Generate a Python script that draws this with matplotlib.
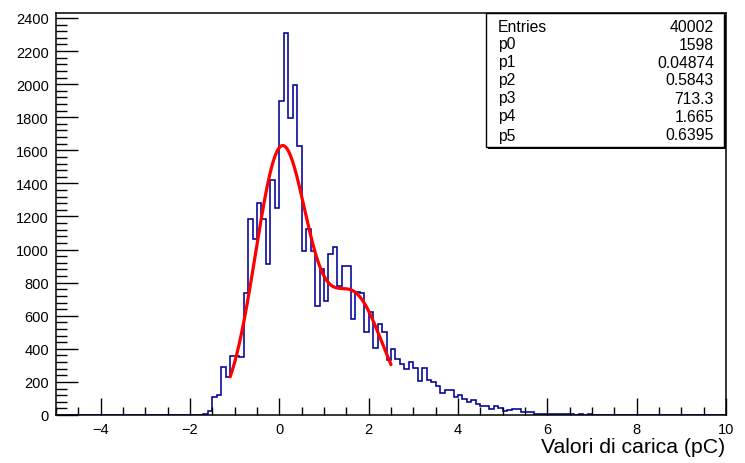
import numpy as np
import matplotlib
matplotlib.use("Agg")
import matplotlib.pyplot as plt
from matplotlib.patches import Rectangle
from matplotlib.ticker import MultipleLocator

plt.rcParams['font.family'] = ['Liberation Sans', 'DejaVu Sans']

# ---------------- data ----------------
x_min, x_max, n_bins = -5.0, 10.0, 150
first_bin_left = -1.7
counts = [
    5, 26, 110, 120, 288, 227, 358, 355, 350,            # -1.7 .. -0.9
    740, 1186, 1061, 1283, 1186, 911, 1423, 1250,         # -0.8 .. -0.1
    1896, 2308, 1796, 1996, 1628,                         # 0.0 .. 0.4
    991, 1122, 991, 659, 881, 690, 971, 1013, 778, 900, 900,  # 0.5 .. 1.5
    579, 742, 735, 502, 620, 408, 550, 500,               # 1.6 .. 2.3
    330, 400, 340, 310, 280, 322, 287, 207,               # 2.4 .. 3.1
    282, 213, 197, 177, 133, 153, 150, 107, 121, 97,      # 3.2 .. 4.1
    76, 92, 66, 52, 52, 36, 52, 40, 26, 28,               # 4.2 .. 5.1
    36, 34, 16, 18, 16, 8, 6, 6, 6, 5,                    # 5.2 .. 6.1
    5, 5, 5, 4, 0, 4, 0, 4, 3                             # 6.2 .. 7.0
]

entries = 40002
fit_params = [1598, 0.04874, 0.5843, 713.3, 1.665, 0.6395]
fit_params_text = ["1598", "0.04874", "0.5843", "713.3", "1.665", "0.6395"]
fit_range = (-1.1, 2.5)

x_title = "Valori di carica (pC)"
y_ticks = list(range(0, 2401, 200))
x_ticks = [-4, -2, 0, 2, 4, 6, 8, 10]

# ---------------- build histogram ----------------
edges = np.linspace(x_min, x_max, n_bins + 1)
hist = np.zeros(n_bins)
start = int(round((first_bin_left - x_min) / 0.1))
hist[start:start + len(counts)] = counts

p0, p1, p2, p3, p4, p5 = fit_params
xf = np.linspace(fit_range[0], fit_range[1], 500)
yf = p0 * np.exp(-0.5 * ((xf - p1) / p2) ** 2) + p3 * np.exp(-0.5 * ((xf - p4) / p5) ** 2)

# ---------------- figure ----------------
W, H = 745, 464
fig = plt.figure(figsize=(W / 100, H / 100), dpi=100)
L, R, T, B = 56, 726, 14, 416
ax = fig.add_axes([L / W, 1 - B / H, (R - L) / W, (B - T) / H])

ax.stairs(hist, edges, color='#000099', linewidth=1.15, baseline=0)
ax.plot(xf, yf, color='#ff0000', linewidth=2.3, solid_capstyle='round')

ax.set_xlim(x_min, x_max)
ax.set_ylim(0, 2430)

ax.set_xticks(x_ticks)
ax.set_xticklabels([("\u2212" + str(-t)) if t < 0 else str(t) for t in x_ticks])
ax.xaxis.set_minor_locator(MultipleLocator(0.5))
ax.set_yticks(y_ticks)
ax.yaxis.set_minor_locator(MultipleLocator(40))

ax.tick_params(axis='both', which='both', direction='in', top=False, right=False,
               labelsize=10.5, color='black')
ax.tick_params(axis='x', which='major', length=12, width=1.0, pad=5)
ax.tick_params(axis='x', which='minor', length=6, width=1.0)
ax.tick_params(axis='y', which='major', length=16, width=1.0, pad=5)
ax.tick_params(axis='y', which='minor', length=8, width=1.0)
for s in ax.spines.values():
    s.set_linewidth(1.1)
    s.set_color('black')

fig.text(725 / W, 1 - 453 / H, x_title, ha='right', va='baseline', fontsize=15.3)

# ---------------- stats box ----------------
bx0, by0, bx1, by1 = 486, 14, 724, 148
# shadow
fig.patches.append(Rectangle(((bx0 + 2) / W, 1 - (by1 + 2) / H), (bx1 - bx0) / W, (by1 - by0) / H,
                             transform=fig.transFigure, facecolor='black', edgecolor='none', zorder=5))
fig.patches.append(Rectangle((bx0 / W, 1 - by1 / H), (bx1 - bx0) / W, (by1 - by0) / H,
                             transform=fig.transFigure, facecolor='white', edgecolor='black',
                             linewidth=1.0, zorder=6))
labels = ["Entries", "p0", "p1", "p2", "p3", "p4", "p5"]
values = [str(entries)] + fit_params_text
row_y = [27, 45, 63, 81, 99, 117, 136]
for lab, val, yy in zip(labels, values, row_y):
    fig.text(498 / W, 1 - yy / H, lab, ha='left', va='center', fontsize=11.3, zorder=7)
    fig.text(714 / W, 1 - yy / H, val, ha='right', va='center', fontsize=11.3, zorder=7)

fig.savefig("out.png", dpi=100)
